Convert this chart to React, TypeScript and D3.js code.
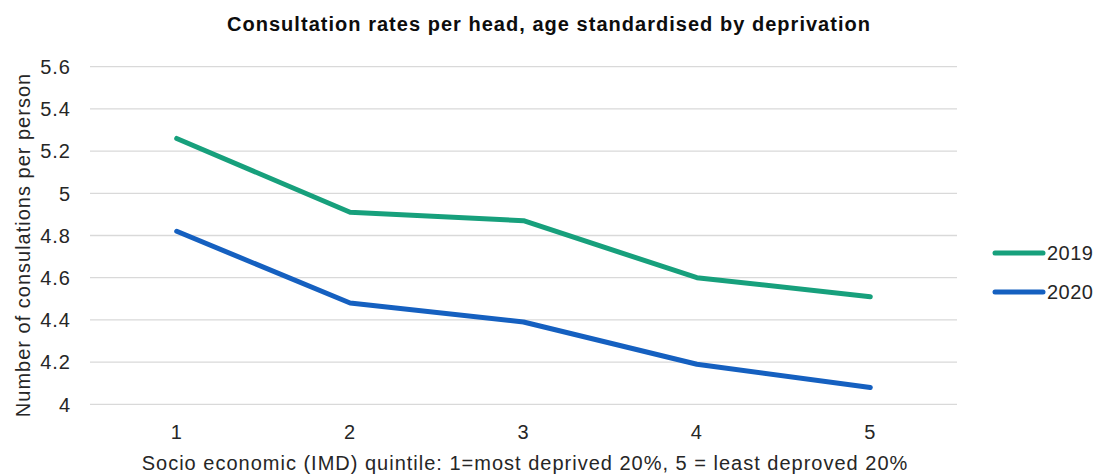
import { useEffect, useRef } from "react";
import * as d3 from "d3";

// Données
const quintiles = ["1", "2", "3", "4", "5"];
const rates2019 = [5.26, 4.91, 4.87, 4.6, 4.51];
const rates2020 = [4.82, 4.48, 4.39, 4.19, 4.08];
const yTicks = [4, 4.2, 4.4, 4.6, 4.8, 5, 5.2, 5.4, 5.6];

const seriesNames = ["2019", "2020"];
const seriesColors = ["#17a07c", "#1560c0"];

const WIDTH = 1097;
const HEIGHT = 475;
const FONT = "'Liberation Sans', Arial, sans-serif";

export default function App() {
  const svgRef = useRef<SVGSVGElement>(null);

  useEffect(() => {
    if (!svgRef.current) return;
    const svg = d3.select(svgRef.current);
    svg.selectAll("*").remove();

    const plot = { left: 90, right: 957, top: 66.7, bottom: 404.3 };

    const x = d3
      .scaleBand()
      .domain(quintiles)
      .range([plot.left, plot.right]);

    const y = d3
      .scaleLinear()
      .domain([4, 5.6])
      .range([plot.bottom, plot.top]);

    const label = (sel: d3.Selection<SVGTextElement, any, any, any>) =>
      sel
        .style("font-family", FONT)
        .style("font-size", "20px")
        .style("letter-spacing", "1px")
        .style("fill", "#262626");

    // Grille horizontale
    svg
      .append("g")
      .selectAll("line")
      .data(yTicks)
      .enter()
      .append("line")
      .attr("x1", plot.left)
      .attr("x2", plot.right)
      .attr("y1", (d) => y(d))
      .attr("y2", (d) => y(d))
      .attr("stroke", "#d9d9d9")
      .attr("stroke-width", 1.3);

    // Libellés Y
    svg
      .append("g")
      .selectAll("text")
      .data(yTicks)
      .enter()
      .append("text")
      .attr("x", 71)
      .attr("y", (d) => y(d))
      .attr("dy", "0.36em")
      .attr("text-anchor", "end")
      .call(label)
      .text((d) => String(d));

    // Libellés X
    svg
      .append("g")
      .selectAll("text")
      .data(quintiles)
      .enter()
      .append("text")
      .attr("x", (d) => (x(d) || 0) + x.bandwidth() / 2)
      .attr("y", 439)
      .attr("text-anchor", "middle")
      .call(label)
      .text((d) => d);

    // Lignes
    const line = d3
      .line<number>()
      .x((_, i) => (x(quintiles[i]) || 0) + x.bandwidth() / 2)
      .y((d) => y(d));

    [rates2019, rates2020].forEach((values, i) => {
      svg
        .append("path")
        .datum(values)
        .attr("d", line)
        .attr("fill", "none")
        .attr("stroke", seriesColors[i])
        .attr("stroke-width", 5)
        .attr("stroke-linecap", "round")
        .attr("stroke-linejoin", "round");
    });

    // Légende
    seriesNames.forEach((name, i) => {
      const ly = 253 + i * 39;
      svg
        .append("line")
        .attr("x1", 995)
        .attr("x2", 1043)
        .attr("y1", ly)
        .attr("y2", ly)
        .attr("stroke", seriesColors[i])
        .attr("stroke-width", 5)
        .attr("stroke-linecap", "round");
      svg
        .append("text")
        .attr("x", 1047)
        .attr("y", ly)
        .attr("dy", "0.36em")
        .call(label)
        .style("letter-spacing", "0.5px")
        .text(name);
    });

    // Titre
    svg
      .append("text")
      .attr("x", 548.5)
      .attr("y", 31)
      .attr("text-anchor", "middle")
      .attr("textLength", 643)
      .attr("lengthAdjust", "spacing")
      .style("font-family", FONT)
      .style("font-weight", "bold")
      .style("font-size", "20px")
      .style("fill", "#0d0d0d")
      .text("Consultation rates per head, age standardised by deprivation");

    // Titre axe X
    svg
      .append("text")
      .attr("x", 525)
      .attr("y", 470)
      .attr("text-anchor", "middle")
      .call(label)
      .text(
        "Socio economic (IMD) quintile:  1=most deprived 20%, 5 = least deproved 20%"
      );

    // Titre axe Y
    svg
      .append("text")
      .attr("transform", "rotate(-90)")
      .attr("x", -245)
      .attr("y", 30)
      .attr("text-anchor", "middle")
      .call(label)
      .text("Number of consulations  per person");
  }, []);

  return (
    <svg
      ref={svgRef}
      width={WIDTH}
      height={HEIGHT}
      style={{ position: "absolute", left: 0, top: 0, background: "#fff" }}
    />
  );
}
